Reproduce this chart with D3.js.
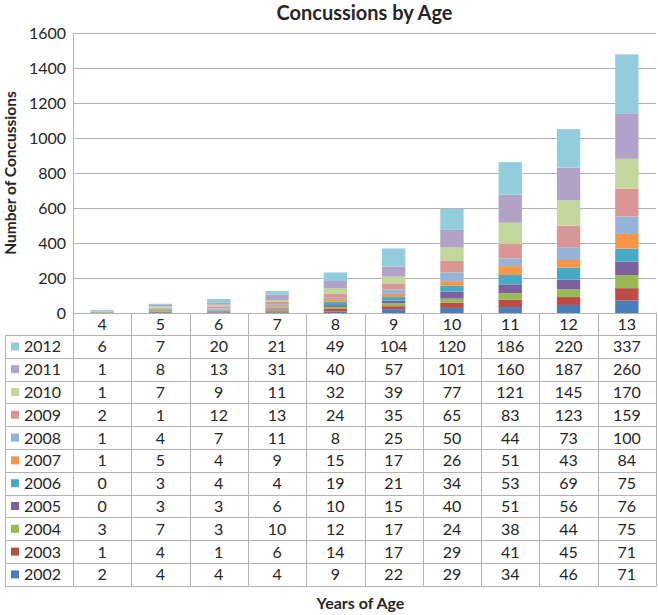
<!DOCTYPE html>
<meta charset="utf-8">
<script src="https://d3js.org/d3.v7.min.js"></script>
<style>
  body { margin: 0; background: #fff; }
  text { font-family: Lato, "Open Sans", sans-serif; fill: #262626; }
</style>
<svg id="chart" width="658" height="615"></svg>
<script>
// data
var ages = ["4", "5", "6", "7", "8", "9", "10", "11", "12", "13"];
var years = ["2002", "2003", "2004", "2005", "2006", "2007", "2008", "2009", "2010", "2011", "2012"];
var v2002 = [2, 4, 4, 4, 9, 22, 29, 34, 46, 71];
var v2003 = [1, 4, 1, 6, 14, 17, 29, 41, 45, 71];
var v2004 = [3, 7, 3, 10, 12, 17, 24, 38, 44, 75];
var v2005 = [0, 3, 3, 6, 10, 15, 40, 51, 56, 76];
var v2006 = [0, 3, 4, 4, 19, 21, 34, 53, 69, 75];
var v2007 = [1, 5, 4, 9, 15, 17, 26, 51, 43, 84];
var v2008 = [1, 4, 7, 11, 8, 25, 50, 44, 73, 100];
var v2009 = [2, 1, 12, 13, 24, 35, 65, 83, 123, 159];
var v2010 = [1, 7, 9, 11, 32, 39, 77, 121, 145, 170];
var v2011 = [1, 8, 13, 31, 40, 57, 101, 160, 187, 260];
var v2012 = [6, 7, 20, 21, 49, 104, 120, 186, 220, 337];
var yTicks = [0, 200, 400, 600, 800, 1000, 1200, 1400, 1600];
var colors = ["#4a7ebb", "#be4b48", "#98b954", "#7d60a0", "#46aac5", "#f79646",
              "#95b3d7", "#d99694", "#c3d69b", "#b3a2c7", "#93cddd"];

var series = [v2002, v2003, v2004, v2005, v2006, v2007, v2008, v2009, v2010, v2011, v2012];
var rows = ages.map(function(a, i) {
  var r = { age: a };
  years.forEach(function(y, j) { r[y] = series[j][i]; });
  return r;
});

var svg = d3.select("#chart");
// plot area bounds (don't use "top" - it's window.top)
var pL = 73, pR = 656, pT = 33, pB = 313;
var tableLeft = 5, headH = 22, rowH = 22.8;

var x = d3.scaleBand().domain(ages).range([pL, pR]).paddingInner(0).paddingOuter(0);
var y = d3.scaleLinear().domain([0, 1600]).range([pB, pT]);
var color = d3.scaleOrdinal().domain(years).range(colors);

// gridlines
svg.append("g")
  .selectAll("line").data(yTicks).enter().append("line")
  .attr("x1", pL).attr("x2", pR)
  .attr("y1", d => Math.round(y(d)) + 0.5).attr("y2", d => Math.round(y(d)) + 0.5)
  .attr("stroke", "#b3b3b3").attr("stroke-width", 1);

// y axis line
svg.append("line")
  .attr("x1", pL + 0.5).attr("x2", pL + 0.5)
  .attr("y1", pT).attr("y2", pB)
  .attr("stroke", "#b3b3b3");

// y tick labels
svg.append("g")
  .selectAll("text").data(yTicks).enter().append("text")
  .attr("x", pL - 7).attr("y", d => y(d) + 6)
  .attr("text-anchor", "end")
  .style("font-size", "16px")
  .text(d => d);

// stacked bars
var stack = d3.stack().keys(years)(rows);
var barW = x.bandwidth() * 0.4;
svg.append("g")
  .selectAll("g").data(stack).enter().append("g")
  .attr("fill", d => color(d.key))
  .selectAll("rect").data(d => d).enter().append("rect")
  .attr("x", d => x(d.data.age) + (x.bandwidth() - barW) / 2)
  .attr("width", barW)
  .attr("y", d => y(d[1]))
  .attr("height", d => y(d[0]) - y(d[1]));

// data table
var tbl = svg.append("g");
var gridColor = "#b3b3b3";
var tableBottom = pB + headH + rowH * years.length;

// header row (age labels)
tbl.selectAll(".hdr").data(ages).enter().append("text")
  .attr("x", d => x(d) + x.bandwidth() / 2)
  .attr("y", pB + headH / 2 + 6)
  .attr("text-anchor", "middle")
  .style("font-size", "16px")
  .text(d => d);

var yearsTop = years.slice().reverse();
yearsTop.forEach(function(yr, r) {
  var cy = pB + headH + rowH * r + rowH / 2;
  var vals = series[years.indexOf(yr)];
  tbl.append("rect")
    .attr("x", tableLeft + 6).attr("y", cy - 4)
    .attr("width", 8).attr("height", 8)
    .attr("fill", color(yr));
  tbl.append("text")
    .attr("x", tableLeft + 19).attr("y", cy + 6)
    .style("font-size", "16px")
    .text(yr);
  tbl.selectAll(".v" + yr).data(vals).enter().append("text")
    .attr("x", (d, i) => x(ages[i]) + x.bandwidth() / 2)
    .attr("y", cy + 6)
    .attr("text-anchor", "middle")
    .style("font-size", "16px")
    .text(d => d);
});

// table lines: horizontals
var hLines = d3.range(0, years.length + 1).map(i => pB + headH + rowH * i);
tbl.selectAll(".hl").data(hLines).enter().append("line")
  .attr("x1", tableLeft).attr("x2", pR)
  .attr("y1", d => Math.round(d) + 0.5).attr("y2", d => Math.round(d) + 0.5)
  .attr("stroke", gridColor);
// verticals
var vLines = ages.map(a => x(a)).concat([pR]);
tbl.selectAll(".vl").data(vLines).enter().append("line")
  .attr("x1", d => Math.round(d) + 0.5).attr("x2", d => Math.round(d) + 0.5)
  .attr("y1", pB).attr("y2", Math.round(tableBottom) + 0.5)
  .attr("stroke", gridColor);
tbl.append("line")
  .attr("x1", tableLeft + 0.5).attr("x2", tableLeft + 0.5)
  .attr("y1", Math.round(pB + headH) + 0.5).attr("y2", Math.round(tableBottom) + 0.5)
  .attr("stroke", gridColor);

// titles
svg.append("text")
  .attr("x", (pL + pR) / 2).attr("y", 20)
  .attr("text-anchor", "middle")
  .style("font-size", "20px").style("font-weight", "bold")
  .text("Concussions by Age");

svg.append("text")
  .attr("transform", "translate(16," + ((pT + pB) / 2) + ") rotate(-90)")
  .attr("text-anchor", "middle")
  .style("font-size", "15.5px").style("font-weight", "bold")
  .text("Number of Concussions");

svg.append("text")
  .attr("x", (pL + pR) / 2 - 4).attr("y", 609)
  .attr("text-anchor", "middle")
  .style("font-size", "16px").style("font-weight", "bold")
  .text("Years of Age");
</script>
